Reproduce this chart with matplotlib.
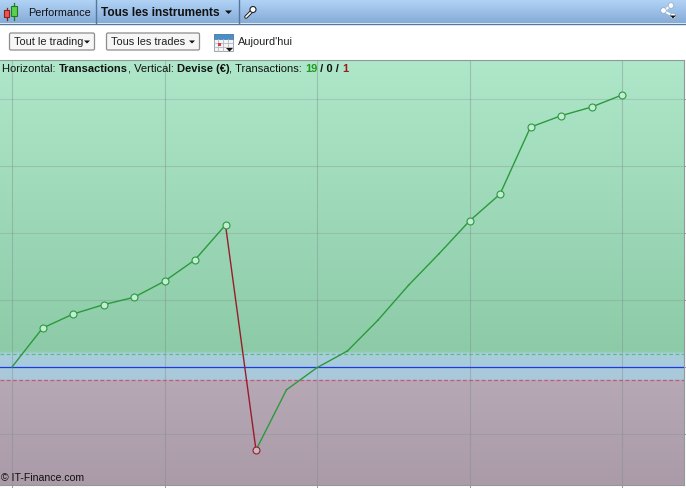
import matplotlib
matplotlib.use('Agg')
import matplotlib.pyplot as plt
import numpy as np
from matplotlib.patches import FancyBboxPatch, Rectangle, Polygon, Circle

plt.rcParams['font.family'] = ['Liberation Sans', 'DejaVu Sans']

# Donnees (gain cumule par transaction)
trades = list(range(21))
gains = [0, 58, 79, 93, 104, 128, 160, 212, -124, -34, -1, 24, 70, 122, 169, 218, 258, 358, 375, 388, 406]
marked = [1, 2, 3, 4, 5, 6, 7, 15, 16, 17, 18, 19, 20]
losing_trade = 8
x_grid = [0, 5, 10, 15, 20]
y_grid = [-100, 0, 100, 200, 300, 400]
band_high = 20
band_low = -20

W, H = 686, 488
fig = plt.figure(figsize=(W / 100, H / 100), dpi=100, facecolor='white')

##############################
# Graphique
##############################
ax = fig.add_axes([0, (H - 485) / H, 684 / W, 425 / H])
px_per_trade = 30.5
px_per_unit = 67 / 100

# Degrade vert (gains), bleu (bande) et violet (pertes)
rows = 425
stops_y = [60, 352.5, 353, 380, 380.5, 485]
stops_c = np.array([[174, 231, 201], [141, 203, 168], [168, 206, 222], [170, 200, 218],
                    [182, 168, 181], [171, 155, 168]], dtype=float)
py = np.linspace(60, 485, rows)
grad = np.stack([np.interp(py, stops_y, stops_c[:, i]) for i in range(3)], axis=1) / 255
ax.imshow(grad[:, None, :], extent=[0, 1, 0, 1], transform=ax.transAxes, aspect='auto', zorder=0)
ax.set_xlim(-12 / px_per_trade, (684 - 12) / px_per_trade)
ax.set_ylim((367 - 485) / px_per_unit, (367 - 60) / px_per_unit)

ax.set_xticks(x_grid)
ax.set_yticks(y_grid)
ax.set_xticklabels([])
ax.set_yticklabels([])
ax.yaxis.tick_right()
ax.tick_params(axis='both', length=2.0, width=0.7, color='#9a9fa4', direction='out')
ax.grid(True, axis='x', color='#808c90', alpha=0.42, linewidth=0.8)
ax.grid(True, axis='y', color='#808c90', alpha=0.3, linewidth=0.8)
ax.set_axisbelow(True)
for name, spine in ax.spines.items():
    spine.set_color('#8f9a98')
    spine.set_linewidth(0.8)
ax.spines['left'].set_visible(False)

ax.axhline(band_high, color='#58c078', linestyle=(0, (3, 2)), linewidth=0.9, zorder=2)
ax.axhline(band_low, color='#c05c78', linestyle=(0, (3, 2)), linewidth=0.9, zorder=2)
ax.axhline(0, color='#1c3ce0', linewidth=0.9, zorder=2)

# Segments : vert si gain, rouge si perte
for i in range(len(trades) - 1):
    color = '#9a1c2a' if trades[i + 1] == losing_trade else '#2a9a3c'
    ax.plot(trades[i:i + 2], gains[i:i + 2], color=color, linewidth=1.0, zorder=3)
ax.plot(marked, [gains[i] for i in marked], linestyle='none', marker='o', markersize=5.0,
        markerfacecolor='#c4ecd4', markeredgecolor='#2a9a3c', markeredgewidth=0.8, zorder=4)
ax.plot([losing_trade], [gains[losing_trade]], linestyle='none', marker='o', markersize=5.0,
        markerfacecolor='#c8b8c0', markeredgecolor='#9a1c2a', markeredgewidth=0.8, zorder=4)

##############################
# Barre d'outils (en pixels)
##############################
ui = fig.add_axes([0, 0, 1, 1], facecolor='none')

bar = np.linspace(0, 1, 24)[:, None]
bar_rgb = (1 - bar)[..., None] * np.array([[[176, 210, 245]]]) / 255 + bar[..., None] * np.array([[[134, 172, 216]]]) / 255
ui.imshow(bar_rgb, extent=[0, W, 23, 0], aspect='auto', zorder=1)
ui.set_xlim(0, W)
ui.set_ylim(H, 0)
ui.axis('off')
ui.plot([0, W], [23.5, 23.5], color='#54789c', linewidth=1.0, zorder=2)
for sx in [95.5, 238.5]:
    ui.plot([sx, sx], [0, 23], color='#54789c', linewidth=1.0, zorder=2)

# Icone chandeliers
ui.plot([6.5, 6.5], [8, 20], color='#8a2020', linewidth=0.9, zorder=2)
ui.add_patch(Rectangle((3.8, 10), 5.2, 7, facecolor='#e85850', edgecolor='#8a2020', linewidth=0.8, zorder=3))
ui.plot([14, 14], [3, 20], color='#1f7a20', linewidth=0.9, zorder=2)
ui.add_patch(Rectangle((11, 6), 6, 9.5, facecolor='#5cd04c', edgecolor='#1f7a20', linewidth=0.8, zorder=3))

toolbar_font = dict(va='center', color='#111111', zorder=5)
ui.text(28, 12.5, 'Performance', fontsize=7.8, **toolbar_font)
ui.text(101, 12.5, 'Tous les instruments', fontsize=8.6, fontweight='bold', **toolbar_font)
ui.add_patch(Polygon([[225, 10.5], [232, 10.5], [228.5, 14]], facecolor='#111111', zorder=5))

# Cle
ui.plot([246, 252], [17, 11], color='#222222', linewidth=2.6, solid_capstyle='round', zorder=5)
ui.plot([246, 252], [17, 11], color='white', linewidth=1.2, solid_capstyle='round', zorder=6)
ui.add_patch(Circle((253, 9.5), 3, facecolor='white', edgecolor='#222222', linewidth=0.8, zorder=6))

# Icone partage
for a, b in [((664, 11), (671, 5)), ((664, 11), (673, 16))]:
    ui.plot([a[0], b[0]], [a[1], b[1]], color='white', linewidth=1.4, zorder=5)
for cx, cy in [(671, 5.5), (663.5, 10.5), (673, 16)]:
    ui.add_patch(Circle((cx, cy), 2.8, facecolor='white', edgecolor='#8aa8c8', linewidth=0.5, zorder=6))
ui.add_patch(Polygon([[670, 15.5], [676, 15.5], [673, 18.5]], facecolor='#111111', zorder=7))

# Boutons
for bx, bw, label, arrow_x in [(9, 86, 'Tout le trading', 87), (106, 94, 'Tous les trades', 192)]:
    ui.add_patch(FancyBboxPatch((bx + 0.5, 33), bw - 1, 17, boxstyle='round,pad=0,rounding_size=1.5',
                                facecolor='#f6f6f6', edgecolor='#8c8c8c', linewidth=0.9, zorder=3))
    ui.text(bx + 5, 42, label, fontsize=7.9, va='center', color='#222222', zorder=5)
    ui.add_patch(Polygon([[arrow_x - 3, 40.5], [arrow_x + 3, 40.5], [arrow_x, 43.5]],
                         facecolor='#111111', zorder=5))

# Calendrier
ui.add_patch(Rectangle((213.5, 34), 19, 17, facecolor='#f4f4f4', edgecolor='#9aa8b8', linewidth=0.7, zorder=3))
ui.add_patch(Rectangle((213.5, 34), 19, 5, facecolor='#4a90c8', edgecolor='#4a7aa8', linewidth=0.5, zorder=4))
for gx in [218, 223, 228]:
    ui.plot([gx, gx], [39, 51], color='#b8b8c0', linewidth=0.6, zorder=4)
for gy in [43, 47]:
    ui.plot([214, 232], [gy, gy], color='#b8b8c0', linewidth=0.6, zorder=4)
ui.add_patch(Rectangle((218, 43), 3, 3, facecolor='#d04040', zorder=5))
ui.add_patch(Polygon([[226, 48], [233, 48], [229.5, 51.5]], facecolor='#111111', zorder=6))
ui.text(238, 42, "Aujourd'hui", fontsize=7.9, va='center', color='#222222', zorder=5)

# Legende en haut du graphique
renderer = fig.canvas.get_renderer()
pos = 2
for txt, weight, color in [('Horizontal: ', 'normal', '#111111'), ('Transactions', 'bold', '#111111'),
                           (', Vertical: ', 'normal', '#111111'), ('Devise (€)', 'bold', '#111111'),
                           (', Transactions: ', 'normal', '#111111'), ('19', 'bold', '#1f9a1f'),
                           (' / 0 / ', 'bold', '#111111'), ('1', 'bold', '#a01818')]:
    t = ui.text(pos, 68.5, txt.replace(' ', '\u00a0'), fontsize=8.0, fontweight=weight, color=color, va='center', zorder=5)
    pos = t.get_window_extent(renderer).x1

ui.text(1, 478, '© IT-Finance.com', fontsize=7.6, va='center', color='#111111', zorder=5)

fig.savefig('out.png', dpi=100)
